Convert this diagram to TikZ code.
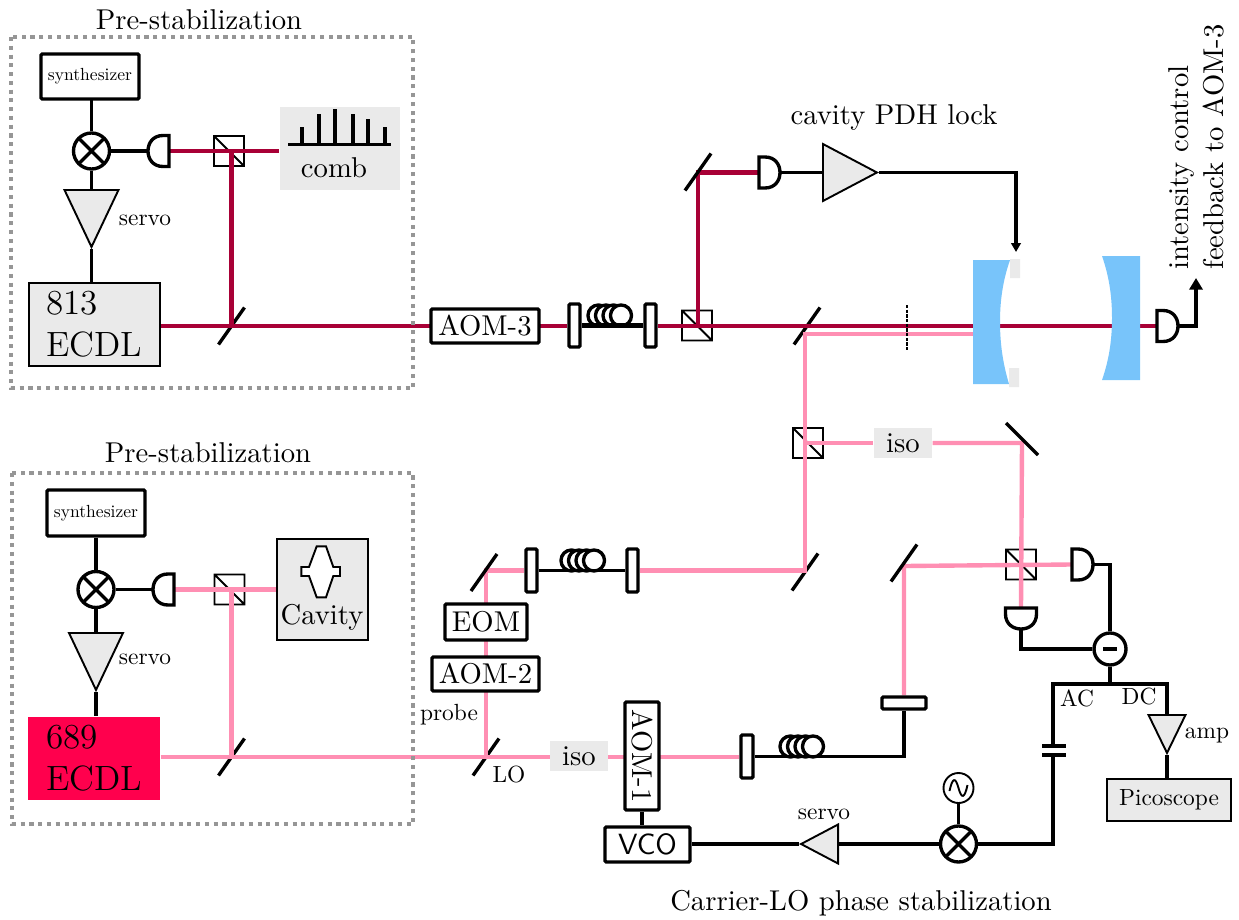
\documentclass[tikz,border=0pt]{standalone}
\usepackage{fontspec}
\usepackage{tikz}
\usetikzlibrary{shapes.geometric,arrows.meta,calc,backgrounds}
\newfontface\fixedface{lmroman10-regular.otf}
\definecolor{beamred}{HTML}{A80036}
\definecolor{beampink}{HTML}{FF8FB3}
\definecolor{laserred}{HTML}{FF004D}
\definecolor{mirrorblue}{HTML}{78C4FA}
\definecolor{boxgrey}{HTML}{EAEAEA}
\definecolor{framegrey}{HTML}{969696}
\newcommand{\pxu}{0.342pt}
\tikzset{
  every node/.style={font=\fontsize{9.8}{12}\selectfont},
  wh/.style 2 args={minimum width=#1*\pxu,minimum height=#2*\pxu,inner sep=0pt},
  blk/.style={line width=1.15pt,black},
  thn/.style={line width=0.65pt,black},
  redbeam/.style={line width=1.5pt,beamred},
  pinkbeam/.style={line width=1.5pt,beampink},
  frame/.style={line width=1.4pt,framegrey,dash pattern=on 1.4pt off 1.6pt},
  optbox/.style={draw,blk,fill=white,rounded corners=0.4pt},
  greybox/.style={fill=boxgrey},
  edgebox/.style={draw,thn,fill=boxgrey},
  smalltxt/.style={font=\fontsize{8}{9.5}\selectfont\fixedface},
  synthtxt/.style={font=\fontsize{6}{7}\selectfont\fixedface},
  ecdltxt/.style={align=left,font=\fontsize{12}{14.4}\selectfont},
  mixer/.style={circle,draw,blk,fill=white,wh={36}{36},
    path picture={\draw[blk] (path picture bounding box.north west)--(path picture bounding box.south east)
      (path picture bounding box.north east)--(path picture bounding box.south west);}},
  amptri/.style={isosceles triangle,isosceles triangle stretches,draw,thn,fill=boxgrey,anchor=lower side,inner sep=0pt},
  detector/.pic={
    \draw[blk,fill=white] (0,-15.5) -- (6,-15.5) .. controls (16,-15.5) and (21,-8) .. (21,0)
      .. controls (21,8) and (16,15.5) .. (6,15.5) -- (0,15.5) -- cycle;
    \coordinate (-in) at (0,0);
    \coordinate (-out) at (21,0);
  },
  mirror/.pic={
    \draw[blk] (-13,18.5) -- (13,-18.5);
    \coordinate (-c) at (0,0);
  },
  turnmirror/.pic={
    \draw[blk] (-16,-16) -- (16,16);
    \coordinate (-c) at (0,0);
  },
  cube/.pic={
    \draw[thn] (-15,-15) rectangle (15,15) (-15,-15) -- (15,15);
    \coordinate (-c) at (0,0);
  },
  fiberloops/.pic={
    \foreach \lx in {-11.5,-4,3.5,11}
      \draw[blk,fill=white] (\lx,-10.5) circle (3.6pt);
  }
}

\begin{document}
\begin{tikzpicture}[x=0.342pt,y=-0.342pt]
  \useasboundingbox (0,0) rectangle (1239,920);
  % upper pre-stabilization
  \node (titleA) at (199,20){Pre-stabilization};
  \draw[frame] (11,37) rectangle (413,388);
  \node[optbox,wh={98}{45},synthtxt] (synA) at (90,76.5){synthesizer};
  \node[mixer] (mixA) at (91.5,151){};
  \pic[rotate=180] (detA) at (169,151){detector};
  \node[greybox,wh={120}{83}] (combA) at (340,148.5){};
  \foreach \sx/\sy in {302/127,319/114,335/109,353/114,368/119,385/127}
    \draw[blk] (\sx,144.5) -- (\sx,\sy);
  \draw[blk] (288,144.5) -- (391,144.5);
  \node (combtxt) at (334,168){comb};
  \node[amptri,wh={54}{57},shape border rotate=-90] (triA) at (91.5,189){};
  \node[smalltxt] (servoA) at (145,220){servo};
  \node[edgebox,wh={131}{83},ecdltxt] (ecdlA) at (94.5,324.5){813\\ECDL};
  % upper beam line
  \node[optbox,wh={108}{34}] (aomC) at (485,326){AOM-3};
  \node[optbox,wh={11}{43}] (colA) at (574.5,325.5){};
  \node[optbox,wh={11}{43}] (colB) at (650.5,325.5){};
  \pic at (610,326){fiberloops};
  \pic (mirA) at (698,172){mirror};
  \pic (detB) at (759,172.5){detector};
  \node[amptri,wh={57}{54},shape border rotate=0] (triB) at (822,172.5){};
  \node (pdh) at (894,117){cavity PDH lock};
  \coordinate (dashtop) at (907,305);
  \coordinate (dashbot) at (907,351);
  \coordinate (pinkin) at (973,334);
  \coordinate (lockin) at (1016,252);
  \pic (detC) at (1157,326){detector};
  \coordinate (fbtip) at (1196,278);
  \node[rotate=90,anchor=west] (fbA) at (1181,280){intensity control};
  \node[rotate=90,anchor=west] (fbB) at (1214,280){feedback to AOM-3};
  % cavity mirrors
  \fill[mirrorblue] (973,260) -- (1010,260) .. controls (1003,280) and (1000,300) .. (1000,322)
    .. controls (1000,344) and (1003,364) .. (1009,384) -- (973,384) -- cycle;
  \fill[mirrorblue] (1102,256) -- (1140,256) -- (1140,380) -- (1102,380)
    .. controls (1109,360) and (1112,340) .. (1112,318) .. controls (1112,296) and (1109,276) .. cycle;
  \fill[boxgrey] (1010,259) rectangle (1020,278) (1009,368) rectangle (1019,387);
  % lower pre-stabilization
  \node (titleB) at (208,453){Pre-stabilization};
  \draw[frame] (12,473) rectangle (413,824);
  \node[optbox,wh={98}{46},synthtxt] (synB) at (96,513){synthesizer};
  \node[mixer] (mixB) at (96,589.5){};
  \pic[rotate=180] (detD) at (174,589.5){detector};
  \node[edgebox,wh={91}{101}] (cavB) at (322.5,589.5){};
  \draw[thn,fill=white] (316.7,546.3) -- (326,546.3) -- (333.3,567) -- (340,567) -- (340,576) -- (333.3,576)
    -- (326,597.3) -- (316.7,597.3) -- (309,576) -- (301.3,576) -- (301.3,567) -- (309,567) -- cycle;
  \node (cavtxt) at (322,617){Cavity};
  \node[amptri,wh={54}{57},shape border rotate=-90] (triC) at (96,632){};
  \node[smalltxt] (servoB) at (145,659){servo};
  \node[fill=laserred,wh={132}{83},ecdltxt] (ecdlB) at (94,758.5){689\\ECDL};
  % probe and LO arms
  \node[smalltxt] (probe) at (449,715){probe};
  \node[smalltxt] (lotxt) at (509,775){LO};
  \node[optbox,wh={107}{34}] (aomB) at (485.5,674){AOM-2};
  \node[optbox,wh={82}{36}] (eom) at (486,622){EOM};
  \pic (mirC) at (484,572.5){mirror};
  \node[optbox,wh={11}{43}] (colC) at (531.5,570.5){};
  \node[optbox,wh={11}{43}] (colD) at (632.5,570.5){};
  \pic at (583,571){fiberloops};
  \node[greybox,wh={58}{30}] (isoB) at (903,443){iso};
  \pic (mirD) at (1022,439){turnmirror};
  \node[greybox,wh={58}{30}] (isoA) at (579,756){iso};
  \node[optbox,wh={34}{108},] (aomA) at (642,756){};
  \node[rotate=-90] (aomtxt) at (642,756){AOM-1};
  \node[optbox,wh={12}{43}] (colE) at (747,756.5){};
  \pic at (802,757){fiberloops};
  \node[optbox,wh={44}{12}] (colF) at (904,703){};
  \pic (mirE) at (904,563){mirror};
  \coordinate (pinkturn) at (904,566);
  \pic (detE) at (1072,564.5){detector};
  \pic[rotate=-90] (detF) at (1021,608){detector};
  % balanced detection and phase lock
  \node[circle,draw,blk,fill=white,wh={32}{32}] (diff) at (1110,649){};
  \draw[line width=1.4pt,shift={(diff)}] (-7,0) -- (7,0);
  \coordinate (split) at (1110,684);
  \coordinate (capA) at (1053,746);
  \coordinate (capB) at (1053,755);
  \draw[blk] ($(capA)+(-11,0)$) -- ($(capA)+(13,0)$) ($(capB)+(-11,0)$) -- ($(capB)+(13,0)$);
  \node[smalltxt] (actxt) at (1077,698){AC};
  \node[smalltxt] (dctxt) at (1139,697){DC};
  \node[amptri,wh={37}{38},shape border rotate=-90] (triD) at (1167,714){};
  \node[smalltxt] (amptxt) at (1207,736){amp};
  \node[edgebox,smalltxt,wh={124}{42}] (scope) at (1169,800){Picoscope};
  \node[mixer] (mixC) at (958.5,844){};
  \node[circle,draw,thn,fill=white,wh={30}{30}] (osc) at (958.5,788){};
  \draw[thn,shift={(osc)}] (-9,3) .. controls (-6,-11) and (-3,-11) .. (0,0) .. controls (3,11) and (6,11) .. (9,-3);
  \node[amptri,wh={39}{37},shape border rotate=180] (triE) at (839,844){};
  \node[smalltxt] (servoC) at (824,814){servo};
  \node[optbox,wh={85}{35},font=\sffamily] (vco) at (647.5,844.5){VCO};
  \node (phase) at (861,903){Carrier-LO phase stabilization};
  % electronics
  \draw[blk] (synA.south) -- (synA.south -| mixA) -- (mixA.north) (mixA.east) -- (detA-out)
    (mixA.south) -- (triA.lower side) (triA.apex) -- (triA.apex |- ecdlA.north);
  \draw[blk] (synB.south) -- (mixB.north) (mixB.east) -- (detD-out)
    (mixB.south) -- (triC.lower side) (triC.apex) -- (triC.apex |- ecdlB.north);
  \draw[blk] (detB-out) -- (triB.lower side);
  \draw[blk,-{Triangle[length=3pt,width=3.2pt]}] (triB.apex) -| (lockin);
  \draw[line width=1.5pt,-{Triangle[length=4pt,width=4.5pt]}] (detC-out) -| (fbtip);
  \draw[line width=1pt,dash pattern=on 1.1pt off 0.5pt] (dashtop) -- (dashbot);
  \draw[blk] (detF-out) |- (diff.west) (detE-out) -| (diff.north) (diff.south) -- (split);
  \draw[blk] (capA) -- (capA |- split) -- (triD.lower side |- split) -- (triD.lower side);
  \draw[blk] (capB) |- (mixC.east);
  \draw[blk] (triD.apex) -- (triD.apex |- scope.north);
  \draw[blk] (osc.south) -- (mixC.north) (mixC.west) -- (triE.lower side) (triE.apex) -- (vco.east |- triE.apex);
  \draw[blk] (aomA.south) -- (aomA.south |- vco.north);
  % fibres
  \draw[line width=1.6pt] (colA.east) -- (colB.west);
  \draw[blk] (colC.east) -- (colD.west);
  \draw[blk] (colE.east) -- (colE.east -| colF.south) -- (colF.south);
  % beams, over the splitters and cubes
  \begin{scope}[on background layer]
    \pic (cubeA) at (229,151){cube};
    \pic (cubeB) at (697,325.5){cube};
    \pic (cubeC) at (229.5,589.5){cube};
    \pic (cubeD) at (808,443){cube};
    \pic (cubeE) at (1021,564.5){cube};
    \pic (bsA) at (231.5,326){mirror};
    \pic (bsB) at (807,326){mirror};
    \pic (bsC) at (231.5,757){mirror};
    \pic (bsD) at (486,757){mirror};
    \pic (bsE) at (805,572){mirror};
    \draw[redbeam] (detA-in) -- (combA.west |- detA-in);
    \draw[redbeam] (bsA-c |- detA-in) -- (bsA-c);
    \draw[redbeam] (ecdlA.east |- bsA-c) -- (colA.west |- bsA-c);
    \draw[redbeam] (colB.east |- bsA-c) -- (detC-in);
    \draw[redbeam] (cubeB-c -| mirA-c) -- (mirA-c |- detB-in) -- (detB-in);
    \draw[pinkbeam] (pinkin) -- (pinkin -| bsE-c) -- (bsE-c |- colD) -- (colD.east);
    \draw[pinkbeam] (bsE-c |- isoB) -- (isoB.west);
    \draw[pinkbeam] (isoB.east) -- (mirD-c |- isoB) -- (detF-in);
    \draw[pinkbeam] (detD-in) -- (cavB.west |- detD-in);
    \draw[pinkbeam] (bsC-c |- detD-in) -- (bsC-c);
    \draw[pinkbeam] (ecdlB.east |- bsC-c) -- (colE.west |- bsC-c);
    \draw[pinkbeam] (bsD-c) -- (bsD-c |- colC) -- (colC.west);
    \draw[pinkbeam] (colF.north) -- (pinkturn) -- (detE-in);
  \end{scope}
\end{tikzpicture}
\end{document}
